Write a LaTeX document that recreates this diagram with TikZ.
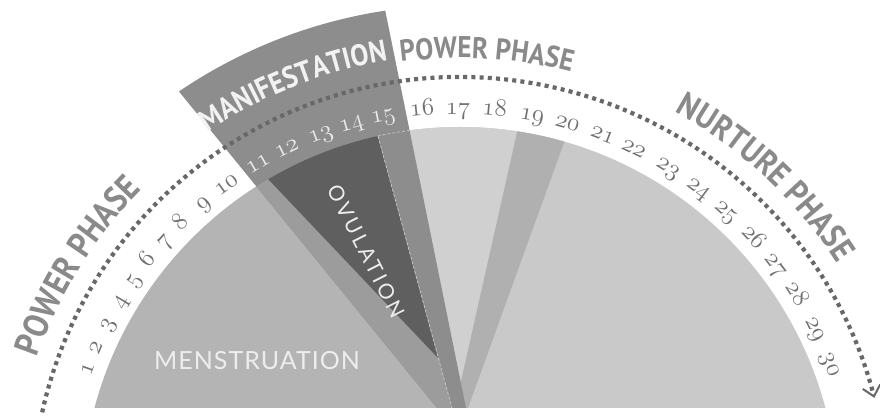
\documentclass[tikz,border=0pt]{standalone}
\usepackage{fontspec}
\usepackage{tikz}
\usepackage{xcolor}
\usetikzlibrary{arrows.meta,decorations.text}
\newfontfamily\phasefont{PT Sans}[FakeStretch=0.9]
\newfontfamily\thinfont{Lato}[LetterSpace=4]
\newfontfamily\ovufont{Lato}[LetterSpace=15]
\newcommand\daynum[1]{{\usefont{OML}{lmm}{m}{it}#1}}
\definecolor{menses}{HTML}{B4B4B4}
\definecolor{nurture}{HTML}{C9C9C9}
\definecolor{powerlight}{HTML}{D0D0D0}
\definecolor{midwedge}{HTML}{B0B0B0}
\definecolor{manif}{HTML}{8D8D8D}
\definecolor{maniflight}{HTML}{9C9C9C}
\definecolor{ovul}{HTML}{5F5F5F}
\definecolor{labelgray}{HTML}{8A8A8A}
\definecolor{numgray}{HTML}{707070}
\definecolor{dotgray}{HTML}{686868}
\tikzset{
    day-label/.style = {font=\fontsize{25}{25}\selectfont, text=numgray, anchor=base, inner sep=0pt},
    day-label-light/.style = {day-label, text=white!92!black},
    body-label/.style = {font=\thinfont\fontsize{25}{25}\selectfont, text=white!93!black, inner sep=0pt},
    phase-path/.style n args = {3}{decorate, decoration={text along path, text align=center,
        text={|\phasefont\bfseries\fontsize{#1}{#1}\selectfont\color{#2}|#3}}},
    cycle-arrow/.style = {draw=dotgray, line width=4.2pt, dash pattern=on 4pt off 4.2pt,
        -{Straight Barb[length=10pt,width=18pt,line width=2pt 0]}},
}
\begin{document}
\begin{tikzpicture}[x=1pt,y=1pt]
\useasboundingbox (-460,90) rectangle (420,505);
\fill[white] (-460,90) rectangle (420,505);
\begin{scope}
    \clip (0,0) circle[radius=378];
    \clip (-400,97) rectangle (400,400);
    \fill[nurture] (-400,97) rectangle (400,400);
    \fill[powerlight] (6,97) -- (-75,495) -- (84.6,495) -- (-5,97) -- cycle;
    \fill[midwedge] (-5,97) -- (84.6,495) -- (152,495) -- (8,97) -- cycle;
    \fill[menses] (-23,97) -- (124.2:500) -- (-500,500) -- (-500,97) -- cycle;
\end{scope}
\fill[manif] (-23,97) -- (124.2:500) arc[start angle=124.2, end angle=98.6, radius=500] -- (6,97) -- cycle;
\begin{scope}
    \clip (0,0) circle[radius=378];
    \clip (-400,97) rectangle (400,400);
    \fill[maniflight] (-23,97) -- (124.2:500) -- (-117.9,500) -- (-8,97) -- cycle;
    \fill[ovul] (-22,147) -- (-229,365) -- (-118,500) -- cycle;
\end{scope}
\draw[white!82!black, line width=0.6pt, dash pattern=on 3pt off 2pt] (-82,369) -- (-8,97);
\draw[white!82!black, line width=0.6pt, dash pattern=on 3pt off 2pt] (102.6:378) arc[start angle=102.6, end angle=97.7, radius=378];

\draw[cycle-arrow] (167.5:428) arc[start angle=167.5, end angle=14.5, radius=428];

\foreach \n/\a in {1/159.9, 2/156.7, 3/153.0, 4/149.1, 5/145.5, 6/141.9, 7/138.3, 8/134.7, 9/130.4, 10/126.1,
    16/95.5, 17/90.3, 18/85.0, 19/79.5, 20/74.3, 21/68.9, 22/64.0, 23/58.3, 24/53.0, 25/47.8,
    26/42.4, 27/37.3, 28/32.1, 29/26.4, 30/20.8}
    \node[day-label, rotate=\a-90] (d\n) at (\a:391) {\daynum{\n}};
\foreach \n/\a in {11/120.6, 12/115.9, 13/110.6, 14/105.9, 15/101.2}
    \node[day-label-light, rotate=\a-90] (d\n) at (\a:391) {\daynum{\n}};

\path[phase-path={35}{labelgray}{POWER PHASE}] (168:448) arc[start angle=168, end angle=128, radius=448];
\path[phase-path={30}{white!95!black}{MANIFESTATION}] (131.7:450) arc[start angle=131.7, end angle=91.7, radius=450];
\path[phase-path={30}{labelgray}{POWER PHASE}] (106.6:447) arc[start angle=106.6, end angle=66.6, radius=447];
\path[phase-path={34}{labelgray}{NURTURE PHASE}] (70:448) arc[start angle=70, end angle=24, radius=448];

\node[body-label] (menstruation) at (-203,144) {MENSTRUATION};
\node[body-label, font=\ovufont\fontsize{21}{21}\selectfont, rotate=-63.2] (ovulation) at (-94,253.5) {OVULATION};
\end{tikzpicture}
\end{document}
